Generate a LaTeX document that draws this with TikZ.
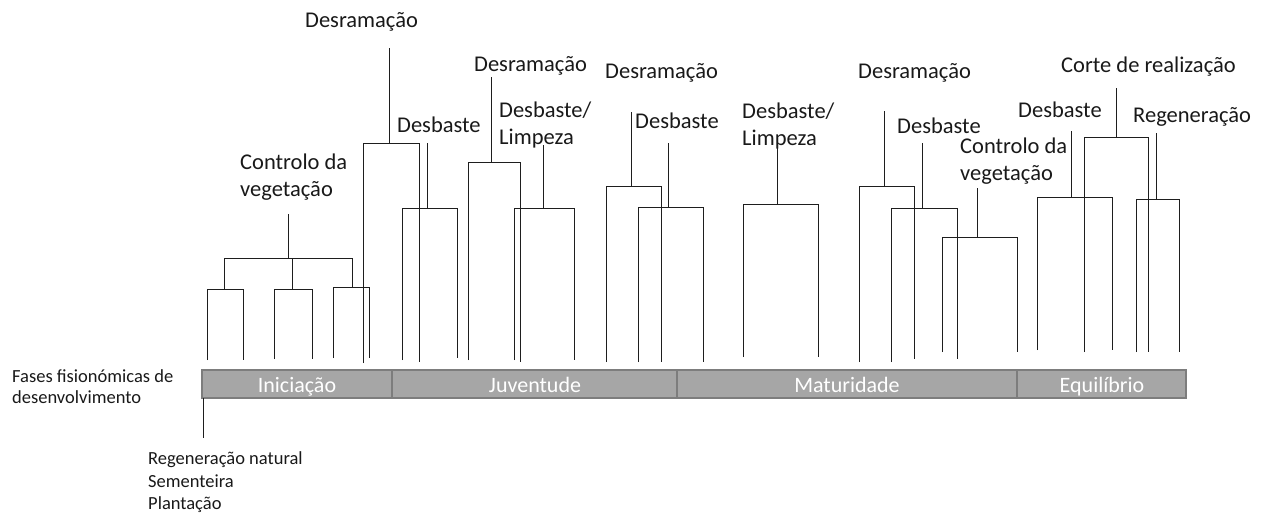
\documentclass[tikz,border=0pt]{standalone}
\usepackage{fontspec}
\setmainfont{Carlito}
\definecolor{barfill}{RGB}{166,166,166}
\definecolor{barline}{RGB}{125,125,125}
\definecolor{lncol}{RGB}{30,30,30}
\newcommand\forkline[7]{%
  \draw[ln] (#1,#2) -- (#1,#3);
  \draw[ln] (#4,#6) -- (#4,#3) -- (#5,#3) -- (#5,#7);
}
\begin{document}
\begin{tikzpicture}[x=1pt,y=-1pt,
  ln/.style={lncol,line width=0.9pt},
  lab/.style={anchor=base west,inner sep=0pt,font=\fontsize{22.5}{27.5}\selectfont,text=black!90},
  small/.style={anchor=base west,inner sep=0pt,font=\fontsize{18.5}{22.5}\selectfont,text=black!90},
  phase/.style={draw=barline,fill=barfill,line width=1.6pt},
  phaselab/.style={anchor=base,inner sep=0pt,text=white,font=\fontsize{22}{26}\selectfont}]
\useasboundingbox (0,0) rectangle (1266,517);

% labels
\node[lab] (d1) at (305,27) {Desramação};
\node[lab] (cv1a) at (240,169) {Controlo da};
\node[lab] (cv1b) at (240,196) {vegetação};
\node[lab] (db1) at (397,132) {Desbaste};
\node[lab] (d2) at (474,71) {Desramação};
\node[lab] (dl1a) at (499,117) {Desbaste/};
\node[lab] (dl1b) at (499,144) {Limpeza};
\node[lab] (d3) at (605,78) {Desramação};
\node[lab] (db2) at (635,128) {Desbaste};
\node[lab] (dl2a) at (742,118) {Desbaste/};
\node[lab] (dl2b) at (742,145) {Limpeza};
\node[lab] (d4) at (858,78) {Desramação};
\node[lab] (db3) at (897,133) {Desbaste};
\node[lab] (cv2a) at (960,153) {Controlo da};
\node[lab] (cv2b) at (960,180) {vegetação};
\node[lab] (cr) at (1061,72) {Corte de realização};
\node[lab] (db4) at (1018,117) {Desbaste};
\node[lab] (rg) at (1133,122) {Regeneração};

\node[small] (f1) at (12,382) {Fases fisionómicas de};
\node[small] (f2) at (12,403) {desenvolvimento};
\node[small] (r1) at (148,464) {Regeneração natural};
\node[small] (r2) at (148,487) {Sementeira};
\node[small] (r3) at (148,509) {Plantação};

% phase bar
\draw[phase] (202,370) rectangle (392,398);
\draw[phase] (392,370) rectangle (677,398);
\draw[phase] (677,370) rectangle (1017,398);
\draw[phase] (1017,370) rectangle (1186,398);
\node[phaselab] (p1) at (297,392) {Iniciação};
\node[phaselab] (p2) at (535,392) {Juventude};
\node[phaselab] (p3) at (847,392) {Maturidade};
\node[phaselab] (p4) at (1102,392) {Equilíbrio};
\draw[ln] (203,398) -- (203,438);

% Iniciacao: controlo da vegetacao
\draw[ln] (288,214) -- (288,258);
\draw[ln] (224,289) -- (224,258) -- (352,258) -- (352,287);
\draw[ln] (292,258) -- (292,289);
\draw[ln] (207,360) -- (207,289) -- (243,289) -- (243,360);
\draw[ln] (274,359) -- (274,289) -- (312,289) -- (312,359);
\draw[ln] (333,358) -- (333,287) -- (369,287) -- (369,358);

% first desramacao
\draw[ln] (389,48) -- (389,143);
\draw[ln] (363,363) -- (363,143) -- (419,143) -- (419,362);
% desbaste juventude
\forkline{427}{143}{208}{402}{457}{360}{358}
\forkline{491}{77}{162}{468}{520}{360}{362}
\forkline{543}{145}{208}{514}{574}{360}{360}
% maturidade
\forkline{631}{112}{186}{606}{661}{362}{362}
\forkline{668}{143}{207}{638}{703}{362}{362}
\forkline{777}{145}{204}{743}{818}{357}{357}
\forkline{884}{111}{186}{859}{914}{362}{359}
\forkline{922}{143}{208}{891}{957}{362}{359}
\forkline{977}{188}{237}{942}{1017}{352}{352}
% equilibrio
\forkline{1116}{88}{137}{1084}{1148}{352}{352}
\forkline{1071}{131}{197}{1037}{1112}{350}{350}
\forkline{1156}{133}{199}{1136}{1179}{352}{352}
\end{tikzpicture}
\end{document}
